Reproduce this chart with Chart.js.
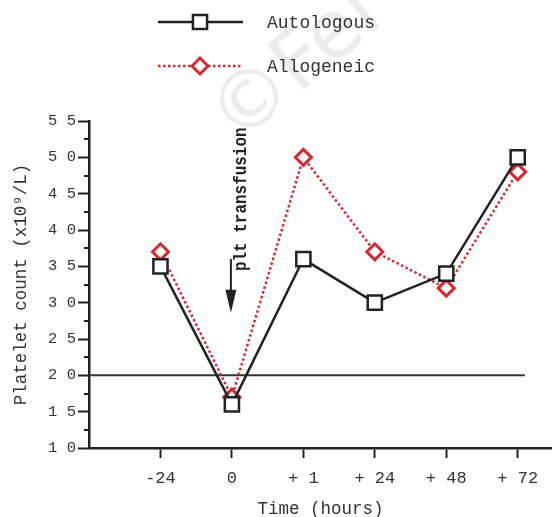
<!DOCTYPE html>
<html>
<head>
<meta charset="utf-8">
<script src="https://cdn.jsdelivr.net/npm/chart.js@4/dist/chart.umd.min.js"></script>
<style>
  html, body { margin: 0; padding: 0; background: #fff; }
  #wrap { width: 552px; height: 517px; }
</style>
</head>
<body>
<div id="wrap"><canvas id="myChart" width="552" height="517"></canvas></div>
<script>
// 横軸のカテゴリ（時間）
const timeLabels = ['-24', '0', '+ 1', '+ 24', '+ 48', '+ 72'];
// 血小板数 (x10^9/L)
const autologous = [35, 16, 36, 30, 34, 50];
const allogeneic = [37, 17, 50, 37, 32, 48];
// 縦軸
const yMin = 10;
const yMax = 55;
const threshold = 20;
// 輸血の矢印（カテゴリ位置と値）
const arrowIndex = 1;
const arrowFrom = 36;
const arrowTo = 28.6;
const noteText = 'plt transfusion';

const monoFont = "'Liberation Mono', 'Courier New', monospace";
const inkColor = '#222';
const redColor = '#d7282f';

function spaced(v) {
    return String(v).split('').join(' ');
}

// 副目盛り・注釈・凡例・透かしを描くプラグイン
const extrasPlugin = {
    id: 'extras',
    beforeDraw(chart) {
        const ctx = chart.ctx;
        ctx.save();
        ctx.fillStyle = '#ececec';
        ctx.font = "80px 'DejaVu Sans', sans-serif";
        ctx.translate(237, 146);
        ctx.rotate(-40 * Math.PI / 180);
        ctx.fillText('\u00A9Fel', 0, 0);
        ctx.restore();
    },
    afterDraw(chart) {
        const ctx = chart.ctx;
        const xs = chart.scales.x;
        const ys = chart.scales.y;

        // 副目盛り
        ctx.save();
        ctx.strokeStyle = inkColor;
        ctx.lineWidth = 2;
        for (let v = yMin + 2.5; v < yMax; v += 5) {
            const py = Math.round(ys.getPixelForValue(v));
            ctx.beginPath();
            ctx.moveTo(xs.left - 5, py);
            ctx.lineTo(xs.left, py);
            ctx.stroke();
        }
        ctx.restore();

        // 輸血の矢印
        const ax = xs.getPixelForValue(arrowIndex) - 1;
        const a0 = ys.getPixelForValue(arrowFrom);
        const a1 = ys.getPixelForValue(arrowTo);
        ctx.save();
        ctx.strokeStyle = inkColor;
        ctx.fillStyle = inkColor;
        ctx.lineWidth = 2;
        ctx.beginPath();
        ctx.moveTo(ax, a0);
        ctx.lineTo(ax, a1 - 20);
        ctx.stroke();
        ctx.beginPath();
        ctx.moveTo(ax - 5.5, a1 - 23);
        ctx.lineTo(ax + 5.5, a1 - 23);
        ctx.lineTo(ax, a1);
        ctx.closePath();
        ctx.fill();

        // 注釈テキスト
        ctx.translate(ax + 15, a0 + 12);
        ctx.rotate(-Math.PI / 2);
        ctx.scale(0.84, 1);
        ctx.font = 'bold 19px ' + monoFont;
        ctx.textAlign = 'left';
        ctx.textBaseline = 'alphabetic';
        ctx.fillText(noteText, 0, 0);
        ctx.restore();

        // 凡例
        const rows = [0, 1];
        rows.forEach((di, i) => {
            const ds = chart.data.datasets[di];
            const y = 22 + i * 44;
            ctx.save();
            ctx.strokeStyle = ds.borderColor;
            ctx.lineWidth = ds.borderWidth;
            ctx.setLineDash(ds.borderDash || []);
            ctx.beginPath();
            ctx.moveTo(158, y);
            ctx.lineTo(243, y);
            ctx.stroke();
            ctx.setLineDash([]);
            ctx.fillStyle = ds.pointBackgroundColor;
            ctx.strokeStyle = ds.pointBorderColor;
            ctx.lineWidth = ds.pointBorderWidth;
            Chart.helpers.drawPoint(ctx, {
                pointStyle: ds.pointStyle,
                radius: ds.pointRadius,
                rotation: 0,
                borderWidth: ds.pointBorderWidth
            }, 200, y);
            ctx.fillStyle = '#333';
            ctx.font = '18px ' + monoFont;
            ctx.textAlign = 'left';
            ctx.textBaseline = 'middle';
            ctx.fillText(ds.label, 267, y + 1);
            ctx.restore();
        });
    }
};

const ctx = document.getElementById('myChart').getContext('2d');

window.myChartInstance = new Chart(ctx, {
    type: 'line',
    data: {
        datasets: [{
            label: 'Autologous',
            data: autologous.map((y, i) => ({ x: i, y: y })),
            borderColor: inkColor,
            borderWidth: 2.5,
            pointStyle: 'rect',
            pointRadius: 10,
            pointHoverRadius: 10,
            pointBackgroundColor: '#fff',
            pointBorderColor: inkColor,
            pointBorderWidth: 2.5,
            order: 0
        }, {
            label: 'Allogeneic',
            data: allogeneic.map((y, i) => ({ x: i, y: y })),
            borderColor: redColor,
            borderWidth: 2.5,
            borderDash: [2.5, 2.5],
            pointStyle: 'rectRot',
            pointRadius: 8,
            pointHoverRadius: 8,
            pointBackgroundColor: '#fff',
            pointBorderColor: redColor,
            pointBorderWidth: 3,
            order: 1
        }, {
            label: 'threshold',
            data: [{ x: -1, y: threshold }, { x: 5.1, y: threshold }],
            borderColor: '#333',
            borderWidth: 2,
            pointRadius: 0,
            order: 2
        }]
    },
    options: {
        responsive: false,
        animation: false,
        layout: {
            autoPadding: false,
            padding: { top: 121, right: 0, left: 0, bottom: 0 }
        },
        plugins: {
            legend: { display: false },
            tooltip: { enabled: false }
        },
        scales: {
            x: {
                type: 'linear',
                min: -1,
                max: 5.48,
                afterBuildTicks: (scale) => {
                    scale.ticks = timeLabels.map((_, i) => ({ value: i }));
                },
                afterFit: (scale) => {
                    scale.height = 69;
                    scale.paddingLeft = 0;
                    scale.paddingRight = 0;
                },
                border: { color: inkColor, width: 2.5 },
                grid: { drawOnChartArea: false, tickLength: 10, tickColor: inkColor, tickWidth: 2 },
                ticks: {
                    callback: (v) => timeLabels[v],
                    font: { family: monoFont, size: 17 },
                    color: '#333',
                    padding: 10,
                    maxRotation: 0
                },
                title: {
                    display: true,
                    text: 'Time (hours)',
                    font: { family: monoFont, size: 17.5 },
                    color: '#333',
                    padding: { top: 0, bottom: -3 }
                }
            },
            y: {
                min: yMin,
                max: yMax,
                afterBuildTicks: (scale) => {
                    const t = [];
                    for (let v = yMin; v <= yMax; v += 5) t.push({ value: v });
                    scale.ticks = t;
                },
                afterFit: (scale) => {
                    scale.width = 89;
                    scale.paddingTop = 0;
                    scale.paddingBottom = 0;
                },
                border: { color: inkColor, width: 2.5 },
                grid: { drawOnChartArea: false, tickLength: 11, tickColor: inkColor, tickWidth: 2 },
                ticks: {
                    callback: (v) => spaced(v),
                    font: { family: monoFont, size: 15.5 },
                    color: '#333',
                    padding: 2
                },
                title: {
                    display: true,
                    text: 'Platelet count (x10\u2079/L)',
                    font: { family: monoFont, size: 17.5 },
                    color: '#333',
                    padding: { top: 11, bottom: 0 }
                }
            }
        }
    },
    plugins: [extrasPlugin]
});
</script>
</body>
</html>
